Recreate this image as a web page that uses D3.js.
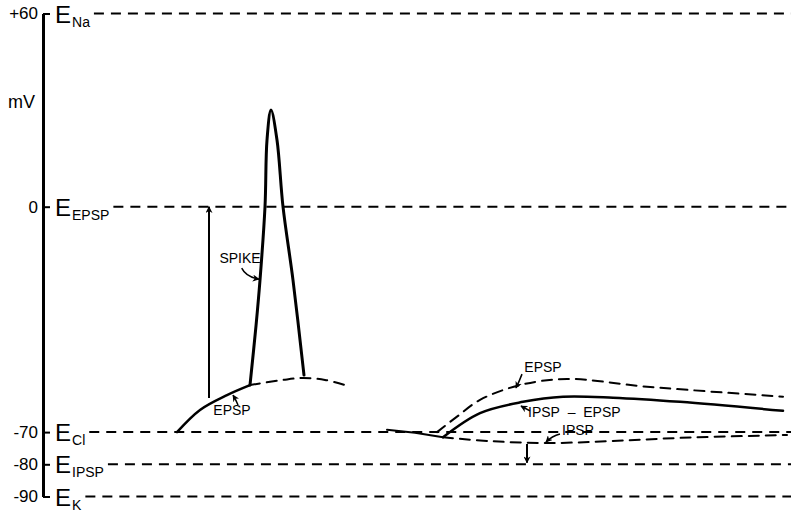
<!DOCTYPE html>
<html>
<head>
<meta charset="utf-8">
<script src="https://cdn.jsdelivr.net/npm/d3@7"></script>
<style>
  body { margin: 0; background: #fff; }
  svg { display: block; font-family: "Liberation Sans", Arial, sans-serif; }
</style>
</head>
<body>
<script>
// equilibrium potentials (mV)
const levels = [60, 0, -70, -80, -90];
const levelText = ["+60", "0", "-70", "-80", "-90"];
const potentialNames = ["Na", "EPSP", "Cl", "IPSP", "K"];

// traces, [time, mV]
const epspRise = [[13.4, -70], [15.7, -63.1], [18.4, -58.5], [20.7, -55.4]];
const spike = [[20.7, -55.4], [21.3, -37], [21.7, -22.8], [22.2, 0], [22.4, 20.7], [22.8, 30],
  [23.4, 20.7], [24.0, 0], [25.0, -22.8], [26.1, -52.3]];
const epspOnly = [[20.7, -55.4], [24, -53.8], [26, -53.2], [28.2, -53.8], [30.2, -55.4]];

const drift = [[34.4, -69.3], [37.2, -70.2], [40, -71.6]];
const ipspEpsp = [[40, -71.6], [43.7, -64.1], [48, -60.6], [52, -59], [57, -59.3], [63.7, -60.6], [74, -63.4]];
const epspRight = [[39.4, -70], [41.4, -65.2], [43.7, -60], [47.7, -55.4], [52.4, -53.5], [60.4, -55.9], [74, -59]];
const ipspRight = [[40, -71.6], [44.7, -72.8], [50.4, -73.4], [56.7, -72.8], [63.7, -71.8], [74.4, -70.9]];

// straight arrows [t, from mV, to mV]
const driveArrows = [[16.6, -59.4, 0], [48.4, -73.7, -79.5]];

// labels
const notes = [
  {text: "SPIKE", t: 19.7, v: -15.9, anchor: "middle"},
  {text: "EPSP", t: 18.9, v: -63.1, anchor: "middle"},
  {text: "EPSP", t: 50, v: -49.8, anchor: "middle"},
  {text: "IPSP\u00a0\u00a0\u2013\u00a0\u00a0EPSP", t: 48.5, v: -63.8, anchor: "start"},
  {text: "IPSP", t: 51.9, v: -69.3, anchor: "start"}
];
// pointer arrows: from, control, to
const pointers = [
  [[19.87, -19.1], [20.3, -21.8], [21.6, -22.5]],
  [[19.5, -61.6], [19.3, -60], [19.0, -58.5]],
  [[47.9, -52], [47.6, -54.4], [47.3, -56.3]],
  [[48.7, -63.4], [48.2, -62.6], [47.8, -61.9]],
  [[51.7, -70.6], [50.9, -71.2], [50.3, -73.1]]
];

const width = 797, height = 511;
const svg = d3.select("body").append("svg")
  .attr("width", width)
  .attr("height", height);

const x = d3.scaleLinear().domain([0, 75]).range([43, 793]);
const y = d3.scaleLinear().domain([-90, 60]).range([496.5, 13.5]);

svg.append("defs").append("marker")
  .attr("id", "head")
  .attr("viewBox", "0 0 10 10")
  .attr("refX", 9).attr("refY", 5)
  .attr("markerWidth", 7).attr("markerHeight", 7)
  .attr("markerUnits", "userSpaceOnUse")
  .attr("orient", "auto")
  .append("path")
  .attr("d", "M0,0L10,5L0,10L3,5Z")
  .attr("fill", "#000");

// axis
const axis = d3.axisLeft(y)
  .tickValues(levels)
  .tickFormat((d, i) => levelText[i])
  .tickSizeInner(-7)
  .tickSizeOuter(0)
  .tickPadding(5);

const ax = svg.append("g")
  .attr("transform", `translate(${x(0)},0)`)
  .call(axis);
ax.select(".domain").attr("stroke-width", 3);
ax.selectAll(".tick line").attr("stroke-width", 2);
ax.selectAll(".tick text")
  .attr("font-size", 17)
  .attr("font-family", "Liberation Sans, Arial, sans-serif")
  .attr("fill", "#000");

svg.append("text")
  .attr("x", 8).attr("y", 108)
  .attr("font-size", 18)
  .text("mV");

// equilibrium labels and dashed lines
levels.forEach((lv, i) => {
  const g = svg.append("g");
  const e = g.append("text")
    .attr("x", 55).attr("y", y(lv) + 9)
    .attr("font-size", 24)
    .text("E");
  const ew = e.node().getComputedTextLength();
  const s = g.append("text")
    .attr("x", 55 + ew + 1).attr("y", y(lv) + 13)
    .attr("font-size", 14)
    .text(potentialNames[i]);
  const sw = s.node().getComputedTextLength();
  g.append("line")
    .attr("x1", 55 + ew + 1 + sw + 4)
    .attr("x2", x(74.8))
    .attr("y1", y(lv)).attr("y2", y(lv))
    .attr("stroke", "#000")
    .attr("stroke-width", 2)
    .attr("stroke-dasharray", "10,7");
});

const line = d3.line().x(d => x(d[0])).y(d => y(d[1]));
const smooth = d3.line().x(d => x(d[0])).y(d => y(d[1])).curve(d3.curveCatmullRom.alpha(0.5));

function trace(data, gen, w, dash) {
  svg.append("path")
    .datum(data)
    .attr("d", gen)
    .attr("fill", "none")
    .attr("stroke", "#000")
    .attr("stroke-width", w)
    .attr("stroke-linejoin", "round")
    .attr("stroke-linecap", "round")
    .attr("stroke-dasharray", dash);
}

trace(epspRise, smooth, 2.5, null);
trace(spike, smooth, 3, null);
trace(epspOnly, smooth, 2, "10,7");
trace(drift, line, 2, null);
trace(ipspEpsp, smooth, 2.5, null);
trace(epspRight, smooth, 2, "10,7");
trace(ipspRight, smooth, 2, "10,7");

// driving-force arrows
svg.selectAll(".drive")
  .data(driveArrows)
  .enter().append("line")
  .attr("class", "drive")
  .attr("x1", d => x(d[0])).attr("x2", d => x(d[0]))
  .attr("y1", d => y(d[1])).attr("y2", d => y(d[2]))
  .attr("stroke", "#000")
  .attr("stroke-width", 2)
  .attr("marker-end", "url(#head)");

// labels and pointers
svg.selectAll(".note")
  .data(notes)
  .enter().append("text")
  .attr("class", "note")
  .attr("x", d => x(d.t))
  .attr("y", d => y(d.v))
  .attr("dy", "0.36em")
  .attr("text-anchor", d => d.anchor)
  .attr("font-size", 14)
  .attr("fill", "#000")
  .text(d => d.text);

svg.selectAll(".pointer")
  .data(pointers)
  .enter().append("path")
  .attr("class", "pointer")
  .attr("d", d => `M${x(d[0][0])},${y(d[0][1])}Q${x(d[1][0])},${y(d[1][1])} ${x(d[2][0])},${y(d[2][1])}`)
  .attr("fill", "none")
  .attr("stroke", "#000")
  .attr("stroke-width", 1.5)
  .attr("marker-end", "url(#head)");
</script>
</body>
</html>
